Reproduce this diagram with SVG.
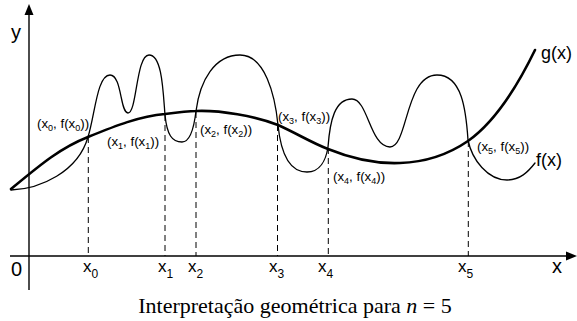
<svg xmlns="http://www.w3.org/2000/svg" width="577" height="321" viewBox="0 0 577 321">
<style>
.ax{stroke:#000;stroke-width:1.4;fill:none}
.dash{stroke:#000;stroke-width:1;stroke-dasharray:6,4;fill:none}
.g{stroke:#000;stroke-width:2.6;fill:none;stroke-linecap:round}
.f{stroke:#000;stroke-width:1.3;fill:none;stroke-linecap:round}
text{font-family:"Liberation Sans",Arial,sans-serif;fill:#000}
.pt{font-size:13.3px}
.sb{font-size:9px}
.lab{font-size:17px}
.lsb{font-size:12px}
.big{font-size:20px}
.fn{font-size:18px}
.cap{font-family:"Liberation Serif","Times New Roman",serif;font-size:22px}
</style>
<rect width="577" height="321" fill="#fff"/>
<g id="axes">
<line class="ax" x1="29" y1="14" x2="29" y2="290"/>
<polygon points="29,4 24.5,15 33.5,15" fill="#000"/>
<line class="ax" x1="10" y1="256" x2="567" y2="256"/>
<polygon points="577,256 566,251.5 566,260.5" fill="#000"/>
<text class="big" x="11" y="276">0</text>
<text class="big" x="11" y="39">y</text>
<text class="big" x="552" y="273">x</text>
</g>
<g id="connectors">
<line class="dash" x1="88.3" y1="137" x2="88.3" y2="256"/>
<line class="dash" x1="165" y1="115" x2="165" y2="256"/>
<line class="dash" x1="196" y1="112" x2="196" y2="256"/>
<line class="dash" x1="277.5" y1="125" x2="277.5" y2="256"/>
<line class="dash" x1="328.3" y1="148" x2="328.3" y2="256"/>
<line class="dash" x1="468.3" y1="141" x2="468.3" y2="256"/>
</g>
<g id="g-curve">
<path class="g" d="M11,189 C40,165 60,148 88,137 C115,126 140,116 165,114 C180,112 188,111 196,111 C220,110 255,116 278,125 C298,134 312,143 328,149 C350,158 375,164 400,163 C430,162 452,152 468,141 C495,122 518,85 535,50"/>
<text class="fn" x="541" y="59">g(x)</text>
</g>
<g id="f-curve">
<path class="f" d="M11,190 C40,189 78,172 88,137 C95,115 97,75 110,75 C122,75 120,113 128,113 C137,113 136,55 149,55 C162,55 163,90 165,115 C167,135 172,142 182,142 C190,142 194,128 196,111 C200,80 215,55 240,55 C265,55 275,95 278,125 C281,155 290,172 307,172 C320,172 326,160 328,147 C330,120 335,99 352,99 C368,99 370,147 390,147 C408,147 405,75 437,75 C462,75 466,110 468,140 C472,160 488,180 507,180 C520,180 528,172 535,163"/>
<text class="fn" x="536" y="166">f(x)</text>
</g>
<g id="p0"><text class="pt" x="37" y="128">(x<tspan class="sb" dy="3">0</tspan><tspan dy="-3">, f(x</tspan><tspan class="sb" dy="3">0</tspan><tspan dy="-3">))</tspan></text></g>
<g id="p1"><text class="pt" x="107" y="146">(x<tspan class="sb" dy="3">1</tspan><tspan dy="-3">, f(x</tspan><tspan class="sb" dy="3">1</tspan><tspan dy="-3">))</tspan></text></g>
<g id="p2"><text class="pt" x="200" y="134">(x<tspan class="sb" dy="3">2</tspan><tspan dy="-3">, f(x</tspan><tspan class="sb" dy="3">2</tspan><tspan dy="-3">))</tspan></text></g>
<g id="p3"><text class="pt" x="278" y="121">(x<tspan class="sb" dy="3">3</tspan><tspan dy="-3">, f(x</tspan><tspan class="sb" dy="3">3</tspan><tspan dy="-3">))</tspan></text></g>
<g id="p4"><text class="pt" x="333" y="181">(x<tspan class="sb" dy="3">4</tspan><tspan dy="-3">, f(x</tspan><tspan class="sb" dy="3">4</tspan><tspan dy="-3">))</tspan></text></g>
<g id="p5"><text class="pt" x="477" y="151">(x<tspan class="sb" dy="3">5</tspan><tspan dy="-3">, f(x</tspan><tspan class="sb" dy="3">5</tspan><tspan dy="-3">))</tspan></text></g>
<g id="xlabels">
<text class="lab" x="83" y="272">x<tspan class="lsb" dy="6">0</tspan></text>
<text class="lab" x="158" y="272">x<tspan class="lsb" dy="6">1</tspan></text>
<text class="lab" x="188" y="272">x<tspan class="lsb" dy="6">2</tspan></text>
<text class="lab" x="269" y="272">x<tspan class="lsb" dy="6">3</tspan></text>
<text class="lab" x="318" y="272">x<tspan class="lsb" dy="6">4</tspan></text>
<text class="lab" x="458" y="272">x<tspan class="lsb" dy="6">5</tspan></text>
</g>
<g id="caption"><text class="cap" x="295" y="313" text-anchor="middle">Interpretação geométrica para <tspan font-style="italic">n</tspan> = 5</text></g>
</svg>
